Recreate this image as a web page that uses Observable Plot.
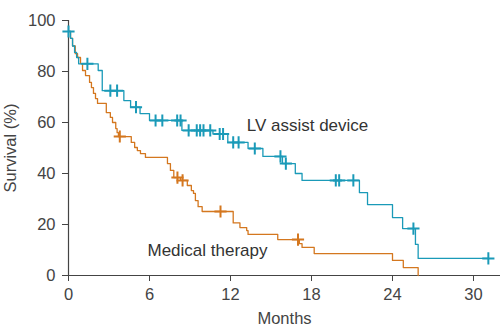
<!DOCTYPE html>
<html><head><meta charset="utf-8">
<script src="https://cdn.jsdelivr.net/npm/d3@7"></script>
<script src="https://cdn.jsdelivr.net/npm/@observablehq/plot@0.6"></script>
<style>body{margin:0;background:#fff}</style>
</head><body><div id="chart"></div>
<script>
// Kaplan-Meier step data (time in months, survival %)
const lvadTime = [0, 0.15, 0.3, 0.45, 0.6, 0.75, 2.2, 2.5, 4.1, 4.6, 5.3, 6.0, 8.4, 10.7, 11.8, 13.3, 14.4, 15.85, 16.8, 17.3, 21.55, 22.15, 24.0, 24.75, 25.7, 25.9, 31.1];
const lvadSurv = [95.7, 93, 90, 87.5, 85.5, 83, 80.4, 72.5, 68.6, 66, 63.5, 60.8, 56.9, 55.5, 52.2, 49.8, 46.7, 43.9, 40, 37.3, 32.5, 27.8, 22.7, 18.4, 12.2, 6.7, 6.7];
const medTime = [0, 0.15, 0.3, 0.5, 0.67, 0.89, 1.04, 1.26, 1.56, 1.7, 1.85, 2.0, 2.15, 2.8, 3.1, 3.26, 3.5, 3.6, 3.7, 4.65, 4.9, 5.1, 5.33, 5.7, 7.33, 7.55, 7.8, 8.3, 8.8, 9.1, 9.26, 9.4, 9.6, 9.9, 12.2, 12.7, 13.2, 13.3, 15.5, 17.1, 17.3, 18.2, 24.0, 24.8, 25.9];
const medSurv = [95.7, 93, 90, 87, 85.5, 83.1, 80.4, 78.4, 75.7, 73.7, 71.4, 69.4, 67.5, 63.9, 62, 60, 57.6, 56, 54.5, 52.2, 50.2, 49, 47.8, 46.3, 43.9, 41.2, 38.4, 37.3, 35.3, 33.3, 32.2, 29.4, 27, 25.1, 20.6, 18.8, 17.6, 16.1, 14.1, 12.5, 11, 8.6, 5.9, 3.1, 0];
// censored observations
const lvadCensTime = [0, 1.4, 3.1, 3.6, 5.0, 6.45, 6.95, 8.05, 8.3, 8.9, 9.5, 9.75, 10.0, 10.5, 11.2, 11.45, 12.2, 12.6, 13.8, 15.7, 16.1, 19.8, 20.05, 21.1, 25.55, 31.1];
const lvadCensSurv = [95.7, 83, 72.5, 72.5, 66, 60.8, 60.8, 60.8, 60.8, 56.9, 56.9, 56.9, 56.9, 56.9, 55.5, 55.5, 52.2, 52.2, 49.8, 46.7, 43.9, 37.3, 37.3, 37.3, 18.4, 6.7];
const medCensTime = [3.8, 8.07, 8.45, 11.26, 17.0];
const medCensSurv = [54.5, 38.4, 37.3, 25.1, 14.1];
// labels and ticks
const seriesNames = ["LV assist device", "Medical therapy"];
const labelX = [13.2, 5.85];
const labelY = [59.0, 9.6];
const xTicks = [0, 6, 12, 18, 24, 30];
const yTicks = [0, 20, 40, 60, 80, 100];

const teal = "#1a9ab8";
const orange = "#d4771f";

const toRows = (t, s) => t.map((d, i) => ({x: d, y: s[i]}));
const lvad = toRows(lvadTime, lvadSurv);
const med = toRows(medTime, medSurv);
const lvadC = toRows(lvadCensTime, lvadCensSurv);
const medC = toRows(medCensTime, medCensSurv);
const labels = seriesNames.map((n, i) => ({name: n, x: labelX[i], y: labelY[i]}));

const chart = Plot.plot({
  width: 500, height: 335,
  marginLeft: 68, marginRight: 0, marginTop: 20, marginBottom: 60,
  style: {fontFamily: "'Liberation Sans', Arial, sans-serif", fontSize: "16px", color: "#444", background: "#fff"},
  x: {domain: [0, 32]},
  y: {domain: [0, 100]},
  marks: [
    Plot.axisY({ticks: yTicks, tickSize: 6, tickPadding: 7, label: "Survival (%)", labelAnchor: "center", labelArrow: "none", labelOffset: 64, fontSize: 16.5}),
    Plot.axisX({ticks: xTicks, tickSize: 6, tickPadding: 7, label: "Months", labelAnchor: "center", labelArrow: "none", labelOffset: 48, fontSize: 16.5}),
    Plot.ruleX([0], {stroke: "#444", strokeWidth: 1.2}),
    Plot.ruleY([0], {stroke: "#444", strokeWidth: 1.2}),
    Plot.line(med, {x: "x", y: "y", curve: "step-after", stroke: orange, strokeWidth: 1.3}),
    Plot.line(lvad, {x: "x", y: "y", curve: "step-after", stroke: teal, strokeWidth: 1.3}),
    Plot.dot(medC, {x: "x", y: "y", symbol: "plus", r: 4, stroke: orange, strokeWidth: 2}),
    Plot.dot(lvadC, {x: "x", y: "y", symbol: "plus", r: 4, stroke: teal, strokeWidth: 2}),
    Plot.text(labels, {x: "x", y: "y", text: "name", textAnchor: "start", fontSize: 17, fill: "#333"})
  ]
});
document.getElementById("chart").append(chart);
</script>
</body></html>
